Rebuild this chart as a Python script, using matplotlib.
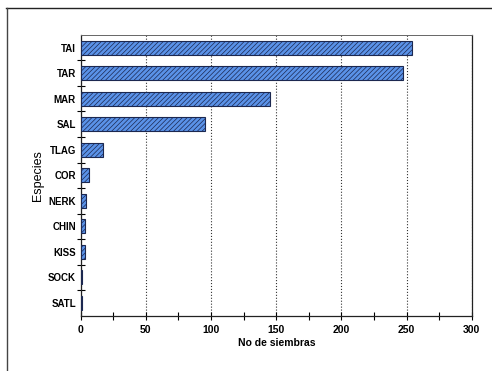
import matplotlib
matplotlib.use("Agg")
import matplotlib.pyplot as plt
from matplotlib.lines import Line2D
from matplotlib.ticker import MultipleLocator, FixedLocator

# Number of plantings per species
especies = ["TAI", "TAR", "MAR", "SAL", "TLAG", "COR", "NERK", "CHIN", "KISS", "SOCK", "SATL"]
siembras = [254, 247, 145, 95, 17, 6, 4, 3, 3, 1, 1]

plt.rcParams["font.family"] = ["Liberation Sans", "DejaVu Sans"]
plt.rcParams["hatch.linewidth"] = 0.5

fig = plt.figure(figsize=(4.92, 3.71), dpi=100)
ax = fig.add_axes([0.164, 0.149, 0.795, 0.757])

pos = list(range(len(especies)))
ax.barh(pos, siembras, height=0.55, color="#5a92e8", edgecolor="#1c2850",
        linewidth=0.8, hatch="///////", zorder=3)

ax.set_xlim(0, 300)
ax.set_ylim(len(especies) - 0.5, -0.5)

ax.set_yticks(pos)
ax.set_yticklabels(especies, fontsize=7, fontweight="bold")
ax.yaxis.set_minor_locator(FixedLocator([p + 0.5 for p in pos[:-1]]))
ax.tick_params(axis="y", which="major", length=0)
ax.tick_params(axis="y", which="minor", direction="inout", length=6, width=0.8)

ax.xaxis.set_major_locator(MultipleLocator(50))
ax.xaxis.set_minor_locator(MultipleLocator(25))
ax.tick_params(axis="x", which="both", direction="inout", length=6, width=0.8,
               labelsize=7.5)
for lbl in ax.get_xticklabels():
    lbl.set_fontweight("bold")

ax.grid(axis="x", linestyle=":", color="#333333", linewidth=0.8, zorder=0)

for side in ["left", "bottom", "right"]:
    ax.spines[side].set_color("#222222")
    ax.spines[side].set_linewidth(0.9)
ax.spines["top"].set_color("#666666")
ax.spines["top"].set_linewidth(0.7)

ax.set_xlabel("No de siembras", fontsize=7.5, fontweight="bold", labelpad=2)
ax.set_ylabel("Especies", fontsize=9, labelpad=3)

# page frame lines
fig.add_artist(Line2D([0.012, 1.0], [0.978, 0.978], color="#222222", linewidth=1.0))
fig.add_artist(Line2D([0.014, 0.014], [0.0, 0.978], color="#444444", linewidth=1.0))

fig.savefig("out.png", dpi=100)
